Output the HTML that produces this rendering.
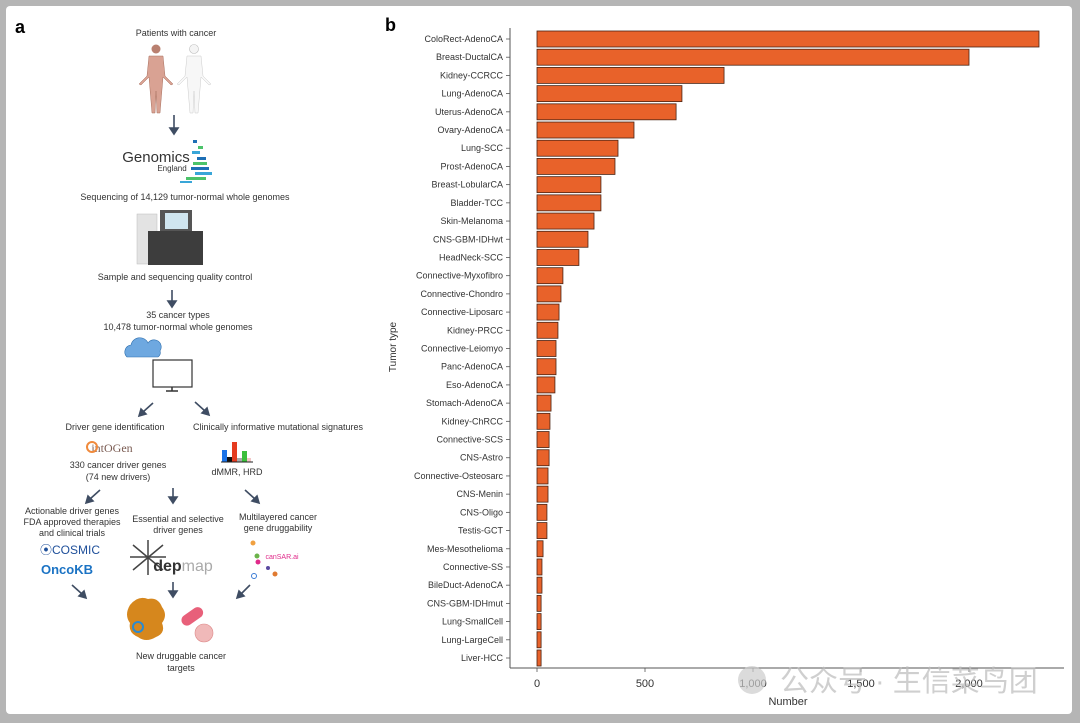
<!DOCTYPE html>
<html><head><meta charset="utf-8"><style>
body{margin:0;background:#fff;}
svg{display:block;font-family:"Liberation Sans",sans-serif;}
</style></head><body>
<svg width="1080" height="723" viewBox="0 0 1080 723" xmlns="http://www.w3.org/2000/svg">
<rect x="0" y="0" width="1080" height="723" fill="#b5b5b5"/>
<rect x="6" y="6" width="1066" height="708" rx="4" fill="#fff"/>

<g id="panelA" font-size="9" fill="#333" text-anchor="middle">
<text x="15" y="33" font-size="18" font-weight="bold" text-anchor="start" fill="#000">a</text>
<text x="176" y="36">Patients with cancer</text>
<g>
<circle cx="156" cy="49" r="4.5" fill="#b98070"/>
<path d="M149 56 h14 l2 20 l8 8 l-2 1 l-8 -8 l-1 12 l-2 24 h-3 l-1 -22 l-1 22 h-3 l-2 -24 l-1 -12 l-8 8 l-2 -1 l8 -8 z" fill="#d9a293" stroke="#a8705f" stroke-width="0.5"/>
<circle cx="194" cy="49" r="4.5" fill="#f4f4f4" stroke="#bbb" stroke-width="0.6"/>
<path d="M187 56 h14 l2 20 l8 8 l-2 1 l-8 -8 l-1 12 l-2 24 h-3 l-1 -22 l-1 22 h-3 l-2 -24 l-1 -12 l-8 8 l-2 -1 l8 -8 z" fill="#f7f7f7" stroke="#ccc" stroke-width="0.5"/>
</g>
<g stroke="#3f4d63" stroke-width="1.6" fill="#3f4d63">
<line x1="174" y1="115" x2="174" y2="130"/><path d="M170 128 l4 6 l4 -6z"/>
<line x1="172" y1="290" x2="172" y2="303"/><path d="M168 301 l4 6 l4 -6z"/>
<line x1="153" y1="403" x2="143" y2="412"/><path d="M139 416 l2 -7 l5 5z"/>
<line x1="195" y1="402" x2="205" y2="411"/><path d="M209 415 l-7 -2 l5 -5z"/>
<line x1="100" y1="490" x2="90" y2="499"/><path d="M86 503 l2 -7 l5 5z"/>
<line x1="173" y1="488" x2="173" y2="498"/><path d="M169 497 l4 6 l4 -6z"/>
<line x1="245" y1="490" x2="255" y2="499"/><path d="M259 503 l-7 -2 l5 -5z"/>
<line x1="72" y1="585" x2="82" y2="594"/><path d="M86 598 l-7 -2 l5 -5z"/>
<line x1="173" y1="582" x2="173" y2="592"/><path d="M169 591 l4 6 l4 -6z"/>
<line x1="250" y1="585" x2="241" y2="594"/><path d="M237 598 l2 -7 l5 5z"/>
</g>
<text x="156" y="162" font-size="15" fill="#333">Genomics</text>
<text x="172" y="171" font-size="8" fill="#333">England</text>
<g>
<rect x="193" y="140" width="4" height="3" fill="#1e6fb5"/><rect x="198" y="146" width="5" height="3" fill="#4cc36a"/><rect x="192" y="151" width="8" height="3" fill="#39a6d8"/><rect x="197" y="157" width="9" height="3" fill="#1e6fb5"/><rect x="193" y="162" width="14" height="3" fill="#4cc36a"/><rect x="191" y="167" width="18" height="3" fill="#1e6fb5"/><rect x="195" y="172" width="17" height="3" fill="#39a6d8"/><rect x="186" y="177" width="20" height="3" fill="#4cc36a"/><rect x="180" y="181" width="12" height="2" fill="#39a6d8"/>
</g>
<text x="185" y="200">Sequencing of 14,129 tumor-normal whole genomes</text>
<g>
<rect x="137" y="214" width="20" height="50" fill="#e3e3e3" stroke="#bbb" stroke-width="0.5"/>
<path d="M160 210 h32 v22 h-32z" fill="#555"/><rect x="165" y="213" width="23" height="16" fill="#cfe5ef"/>
<rect x="148" y="231" width="55" height="34" fill="#3d3d3d"/>
</g>
<text x="175" y="280">Sample and sequencing quality control</text>
<text x="178" y="318">35 cancer types</text>
<text x="178" y="330">10,478 tumor-normal whole genomes</text>
<g>
<path d="M127 357 a7 7 0 0 1 4 -12 a9 9 0 0 1 17 -2 a7 7 0 0 1 12 8 a5 5 0 0 1 -2 6 z" fill="#6ea8e0" stroke="#2e6fae" stroke-width="0.6"/>
<rect x="153" y="360" width="39" height="27" fill="#fff" stroke="#333" stroke-width="1.2"/>
<line x1="172" y1="387" x2="172" y2="391" stroke="#333" stroke-width="1.5"/><line x1="166" y1="391" x2="178" y2="391" stroke="#333" stroke-width="1.5"/>
</g>
<text x="115" y="430">Driver gene identification</text>
<text x="278" y="430">Clinically informative mutational signatures</text>
<text x="112" y="452" font-size="12" font-family="Liberation Serif,serif" fill="#7a5b52">intOGen</text>
<circle cx="92" cy="447" r="5" fill="none" stroke="#f08a3c" stroke-width="2"/>
<text x="118" y="468">330 cancer driver genes</text>
<text x="118" y="480">(74 new drivers)</text>
<g>
<rect x="222" y="450" width="5" height="12" fill="#1a73e8"/><rect x="227" y="457" width="5" height="5" fill="#111"/><rect x="232" y="442" width="5" height="20" fill="#e53b1f"/><rect x="237" y="458" width="5" height="4" fill="#aaa"/><rect x="242" y="451" width="5" height="11" fill="#3cbf3c"/><rect x="247" y="458" width="4" height="4" fill="#f2c6c6"/>
<line x1="221" y1="462" x2="253" y2="462" stroke="#222"/>
</g>
<text x="237" y="475">dMMR, HRD</text>
<text x="72" y="514">Actionable driver genes</text>
<text x="72" y="525">FDA approved therapies</text>
<text x="72" y="536">and clinical trials</text>
<text x="178" y="522">Essential and selective</text>
<text x="178" y="533">driver genes</text>
<text x="278" y="520">Multilayered cancer</text>
<text x="278" y="531">gene druggability</text>
<text x="70" y="554" font-size="12" fill="#1e4f9a">⦿COSMIC</text>
<text x="67" y="574" font-size="13" font-weight="bold" fill="#1b73c4">OncoKB</text>
<g>
<path d="M133 545 l30 25 M163 545 l-30 25 M148 540 v35 M130 557 h36" stroke="#444" stroke-width="1.5"/>
<text x="183" y="571" font-size="16" font-weight="bold" fill="#333">dep<tspan fill="#aaa" font-weight="normal">map</tspan></text>
</g>
<g>
<circle cx="253" cy="543" r="2.5" fill="#f0a040"/><circle cx="257" cy="556" r="2.5" fill="#6bb34a"/><circle cx="258" cy="562" r="2.5" fill="#e02a8a"/><circle cx="254" cy="576" r="2.5" fill="none" stroke="#3a7bd5"/><circle cx="268" cy="568" r="2" fill="#5a4aa0"/><circle cx="275" cy="574" r="2.5" fill="#e07a30"/>
<text x="282" y="559" font-size="7" fill="#e02a8a">canSAR.ai</text>
</g>
<g>
<path d="M130 605 q8 -10 18 -6 q10 -2 14 8 q6 8 0 16 q4 10 -6 14 q-10 6 -18 0 q-10 -4 -8 -14 q-6 -8 0 -18z" fill="#d6871d"/>
<circle cx="138" cy="627" r="5" fill="none" stroke="#2a8ad0" stroke-width="2"/>
<rect x="180" y="611" width="24" height="11" rx="5.5" transform="rotate(-35 192 616)" fill="#e8607a"/>
<circle cx="204" cy="633" r="9" fill="#f0b9b9" stroke="#d88" stroke-width="0.6"/>
</g>
<text x="181" y="659">New druggable cancer</text>
<text x="181" y="671">targets</text>
</g>

<g id="chart"></g>
</svg>
<script>
const categories=["ColoRect-AdenoCA","Breast-DuctalCA","Kidney-CCRCC","Lung-AdenoCA","Uterus-AdenoCA","Ovary-AdenoCA","Lung-SCC","Prost-AdenoCA","Breast-LobularCA","Bladder-TCC","Skin-Melanoma","CNS-GBM-IDHwt","HeadNeck-SCC","Connective-Myxofibro","Connective-Chondro","Connective-Liposarc","Kidney-PRCC","Connective-Leiomyo","Panc-AdenoCA","Eso-AdenoCA","Stomach-AdenoCA","Kidney-ChRCC","Connective-SCS","CNS-Astro","Connective-Osteosarc","CNS-Menin","CNS-Oligo","Testis-GCT","Mes-Mesothelioma","Connective-SS","BileDuct-AdenoCA","CNS-GBM-IDHmut","Lung-SmallCell","Lung-LargeCell","Liver-HCC"];
const counts=[2324,2000,866,671,644,449,375,361,296,296,264,236,194,120,111,102,97,88,88,83,65,60,56,56,51,51,46,46,28,23,23,19,19,19,19];
const xTicks=[0,500,1000,1500,2000];
const xTickLabels=["0","500","1,000","1,500","2,000"];

const NS="http://www.w3.org/2000/svg";
const g=document.getElementById('chart');
const x0=537, pxPer=0.216, yTop=39, step=(658-39)/34, bh=16;
const xs=v=>x0+v*pxPer;
const ys=i=>yTop+i*step;
function mk(tag,attrs,parent){const e=document.createElementNS(NS,tag);for(const k in attrs)e.setAttribute(k,attrs[k]);(parent||g).appendChild(e);return e;}
let t=mk('text',{x:385,y:31,'font-size':18,'font-weight':'bold'});t.textContent='b';


categories.forEach((c,i)=>{
  const r=mk('rect',{x:xs(0),y:ys(i)-bh/2,width:xs(counts[i])-xs(0),height:bh,fill:'#e8622a',stroke:'#4a2414','stroke-width':0.8});
  
  
  const l=mk('text',{x:503,y:ys(i)+3,'font-size':9,'text-anchor':'end',fill:'#333'});l.textContent=c;
  
  
  mk('line',{x1:506,x2:510,y1:ys(i),y2:ys(i),stroke:'#555','stroke-width':0.8});
});
const ya=mk('line',{x1:510,x2:510,y1:28,y2:668,stroke:'#555','stroke-width':1});


const xa=mk('line',{x1:510,x2:1064,y1:668,y2:668,stroke:'#555','stroke-width':1});


xTicks.forEach((v,i)=>{
  mk('line',{x1:xs(v),x2:xs(v),y1:668,y2:672,stroke:'#555','stroke-width':0.8});
  const l=mk('text',{x:xs(v),y:687,'font-size':11,'text-anchor':'middle',fill:'#333'});l.textContent=xTickLabels[i];
  
  
});
const xt=mk('text',{x:788,y:705,'font-size':11,'text-anchor':'middle',fill:'#333'});xt.textContent='Number';


const yt=mk('text',{x:0,y:0,'font-size':10,'text-anchor':'middle',fill:'#333',transform:'translate(396,347) rotate(-90)'});yt.textContent='Tumor type';


const wi=mk('circle',{cx:752,cy:680,r:14,fill:'#ccc','fill-opacity':0.7});


const wm=mk('text',{x:780,y:691,'font-size':29,fill:'#bbb','fill-opacity':0.7,'font-family':'"Liberation Sans","Noto Sans CJK SC",sans-serif'});wm.textContent='公众号 · 生信菜鸟团';


</script>
</body></html>
